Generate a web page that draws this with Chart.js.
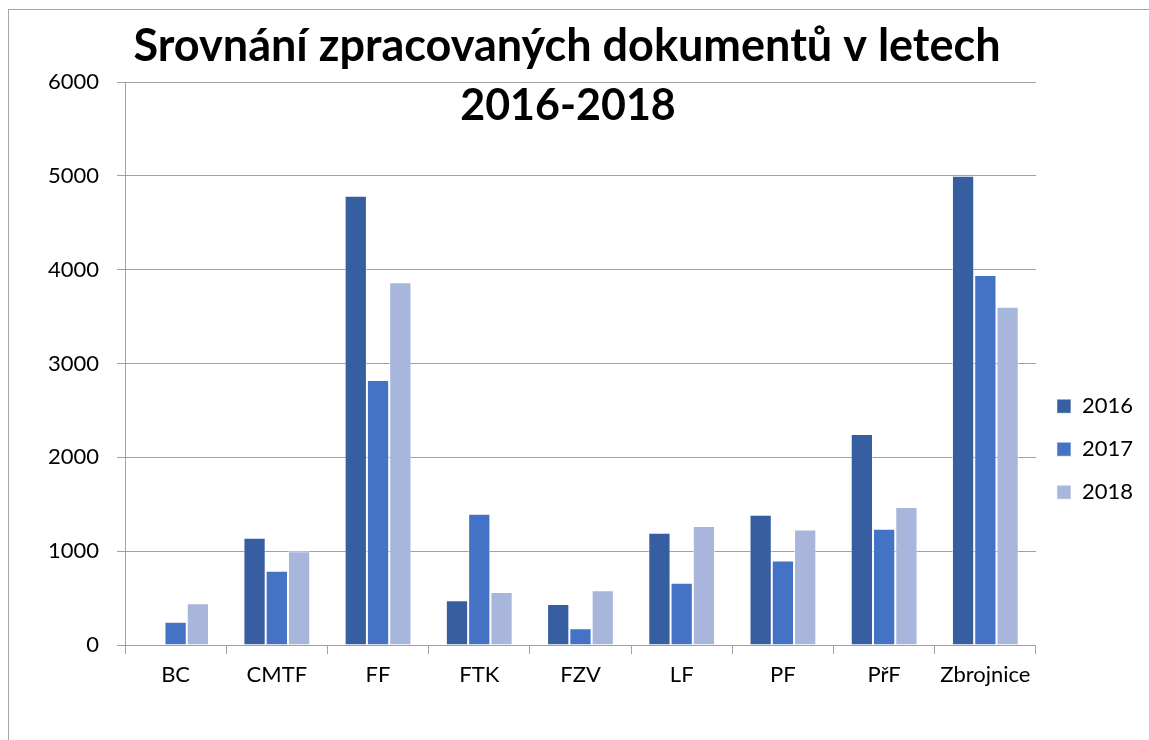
<!DOCTYPE html>
<html>
<head>
<meta charset="utf-8">
<script src="https://cdn.jsdelivr.net/npm/chart.js@4.4.0/dist/chart.umd.min.js"></script>
<style>
  body { margin: 0; background: #fff; overflow: hidden; }
  #wrap { position: relative; width: 1149px; height: 740px; }
  #frame { position: absolute; left: 8px; top: 9px; width: 1200px; height: 800px; border: 1px solid #a6a6a6; }
  canvas { position: absolute; left: 0; top: 0; }
</style>
</head>
<body>
<div id="wrap">
  <div id="frame"></div>
  <canvas id="chart" width="1149" height="740"></canvas>
</div>
<script>
// data
const categories = ['BC', 'CMTF', 'FF', 'FTK', 'FZV', 'LF', 'PF', 'PřF', 'Zbrojnice'];
const years = ['2016', '2017', '2018'];
const values2016 = [0, 1144, 4787, 476, 437, 1195, 1387, 2249, 5000];
const values2017 = [248, 792, 2825, 1398, 178, 664, 900, 1238, 3944];
const values2018 = [445, 1000, 3866, 565, 583, 1267, 1230, 1470, 3606];
const yMin = 0, yMax = 6000, yStep = 1000;
const titleLines = ['Srovnání zpracovaných dokumentů v letech', '2016-2018'];

const colors = ['#365EA0', '#4472C4', '#A9B6DB'];
const gridColor = '#a0a0a0';

Chart.defaults.font.family = 'Lato';
Chart.defaults.color = '#000';

// title is drawn over the plot like in the original, so it doesn't take layout space
const titlePlugin = {
    id: 'overTitle',
    afterDraw(chart) {
        const ctx = chart.ctx;
        ctx.save();
        ctx.fillStyle = '#000';
        ctx.textAlign = 'center';
        ctx.textBaseline = 'alphabetic';
        ctx.font = 'bold 45px Lato';
        ctx.fillText(titleLines[0], 567, 61);
        ctx.font = 'bold 43px Lato';
        ctx.fillText(titleLines[1], 568, 120);
        ctx.restore();
    }
};

const series = [values2016, values2017, values2018];

new Chart(document.getElementById('chart'), {
    type: 'bar',
    data: {
        labels: categories,
        datasets: series.map((vals, i) => ({
            label: years[i],
            data: vals,
            backgroundColor: colors[i],
            borderColor: 'rgba(255,255,255,0.55)',
            borderWidth: 1,
            categoryPercentage: 0.66,
            barPercentage: 1.0
        }))
    },
    options: {
        responsive: false,
        animation: false,
        devicePixelRatio: 1,
        layout: { padding: { top: 82, left: 0, right: 6, bottom: 0 } },
        plugins: {
            title: { display: false },
            tooltip: { enabled: false },
            legend: {
                position: 'right',
                align: 'center',
                // empty title only used to push the items down to where Excel put them
                title: { display: true, text: ' ', font: { size: 22 }, padding: { top: 0, bottom: 50 } },
                labels: {
                    font: { size: 22 },
                    boxWidth: 14,
                    boxHeight: 14,
                    padding: 21,
                    color: '#000'
                }
            }
        },
        scales: {
            x: {
                grid: {
                    drawOnChartArea: false,
                    drawTicks: true,
                    tickLength: 9,
                    color: gridColor
                },
                border: { display: true, color: gridColor },
                ticks: { font: { size: 22 }, padding: 8, maxRotation: 0, autoSkip: false },
                afterFit(scale) { scale.height = 95; }
            },
            y: {
                min: yMin,
                max: yMax,
                grid: { color: gridColor, tickLength: 8 },
                border: { display: true, color: gridColor },
                ticks: {
                    stepSize: yStep,
                    font: { size: 22 },
                    padding: 18,
                    callback: v => String(v)
                },
                afterFit(scale) { scale.width = 125; }
            }
        }
    },
    plugins: [titlePlugin]
});
</script>
</body>
</html>
